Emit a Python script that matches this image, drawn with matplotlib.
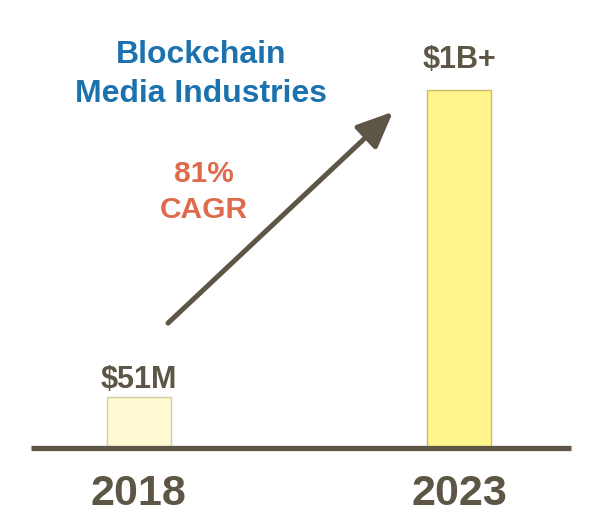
import matplotlib.pyplot as plt

# chart values (bar heights relative to the 2023 bar)
years = ["2018", "2023"]
heights = [0.142, 1.0]
value_labels = ["$51M", "$1B+"]
label_offsets = [0.026, 0.061]
bar_colors = ["#FFFAD2", "#FFF58C"]
edge_colors = ["#D6CCA0", "#C9BC6C"]

title_lines = ["Blockchain", "Media Industries"]
cagr_lines = ["81%", "CAGR"]

dark = "#5D5546"
blue = "#1C72AE"
salmon = "#E06A4C"

plt.rcParams['font.family'] = ['Liberation Sans', 'DejaVu Sans']

fig = plt.figure(figsize=(5.95, 5.19), dpi=100)
ax = fig.add_axes([0, 0, 1, 1])
ax.set_xlim(-0.434, 1.425)
ax.set_ylim(-0.198, 1.251)
ax.axis('off')

xs = list(range(len(years)))
ax.bar(xs, heights, width=0.2, color=bar_colors, edgecolor=edge_colors, linewidth=1, zorder=2)

# baseline
ax.axhline(0, xmin=0.052, xmax=0.96, color=dark, lw=3.8, zorder=3, solid_capstyle='butt')

for x, h, off, lab, yr in zip(xs, heights, label_offsets, value_labels, years):
    ax.text(x, h + off, lab, ha='center', va='baseline', fontsize=22, fontweight='bold', color=dark)
    ax.text(x, -0.16, yr, ha='center', va='baseline', fontsize=31, fontweight='bold', color=dark)

# title and growth note
for txt, y in zip(title_lines, [1.075, 0.966]):
    ax.text(0.194, y, txt, ha='center', va='baseline', fontsize=23, fontweight='bold', color=blue)
for txt, y in zip(cagr_lines, [0.743, 0.642]):
    ax.text(0.203, y, txt, ha='center', va='baseline', fontsize=21.5, fontweight='bold', color=salmon)

# growth arrow
ax.annotate('', xy=(0.794, 0.939), xytext=(0.091, 0.349),
            arrowprops=dict(arrowstyle='-|>,head_length=1.1,head_width=0.48',
                            mutation_scale=20, lw=3.6, color=dark,
                            shrinkA=0, shrinkB=0))

fig.savefig("out.png", dpi=100, facecolor='white')
